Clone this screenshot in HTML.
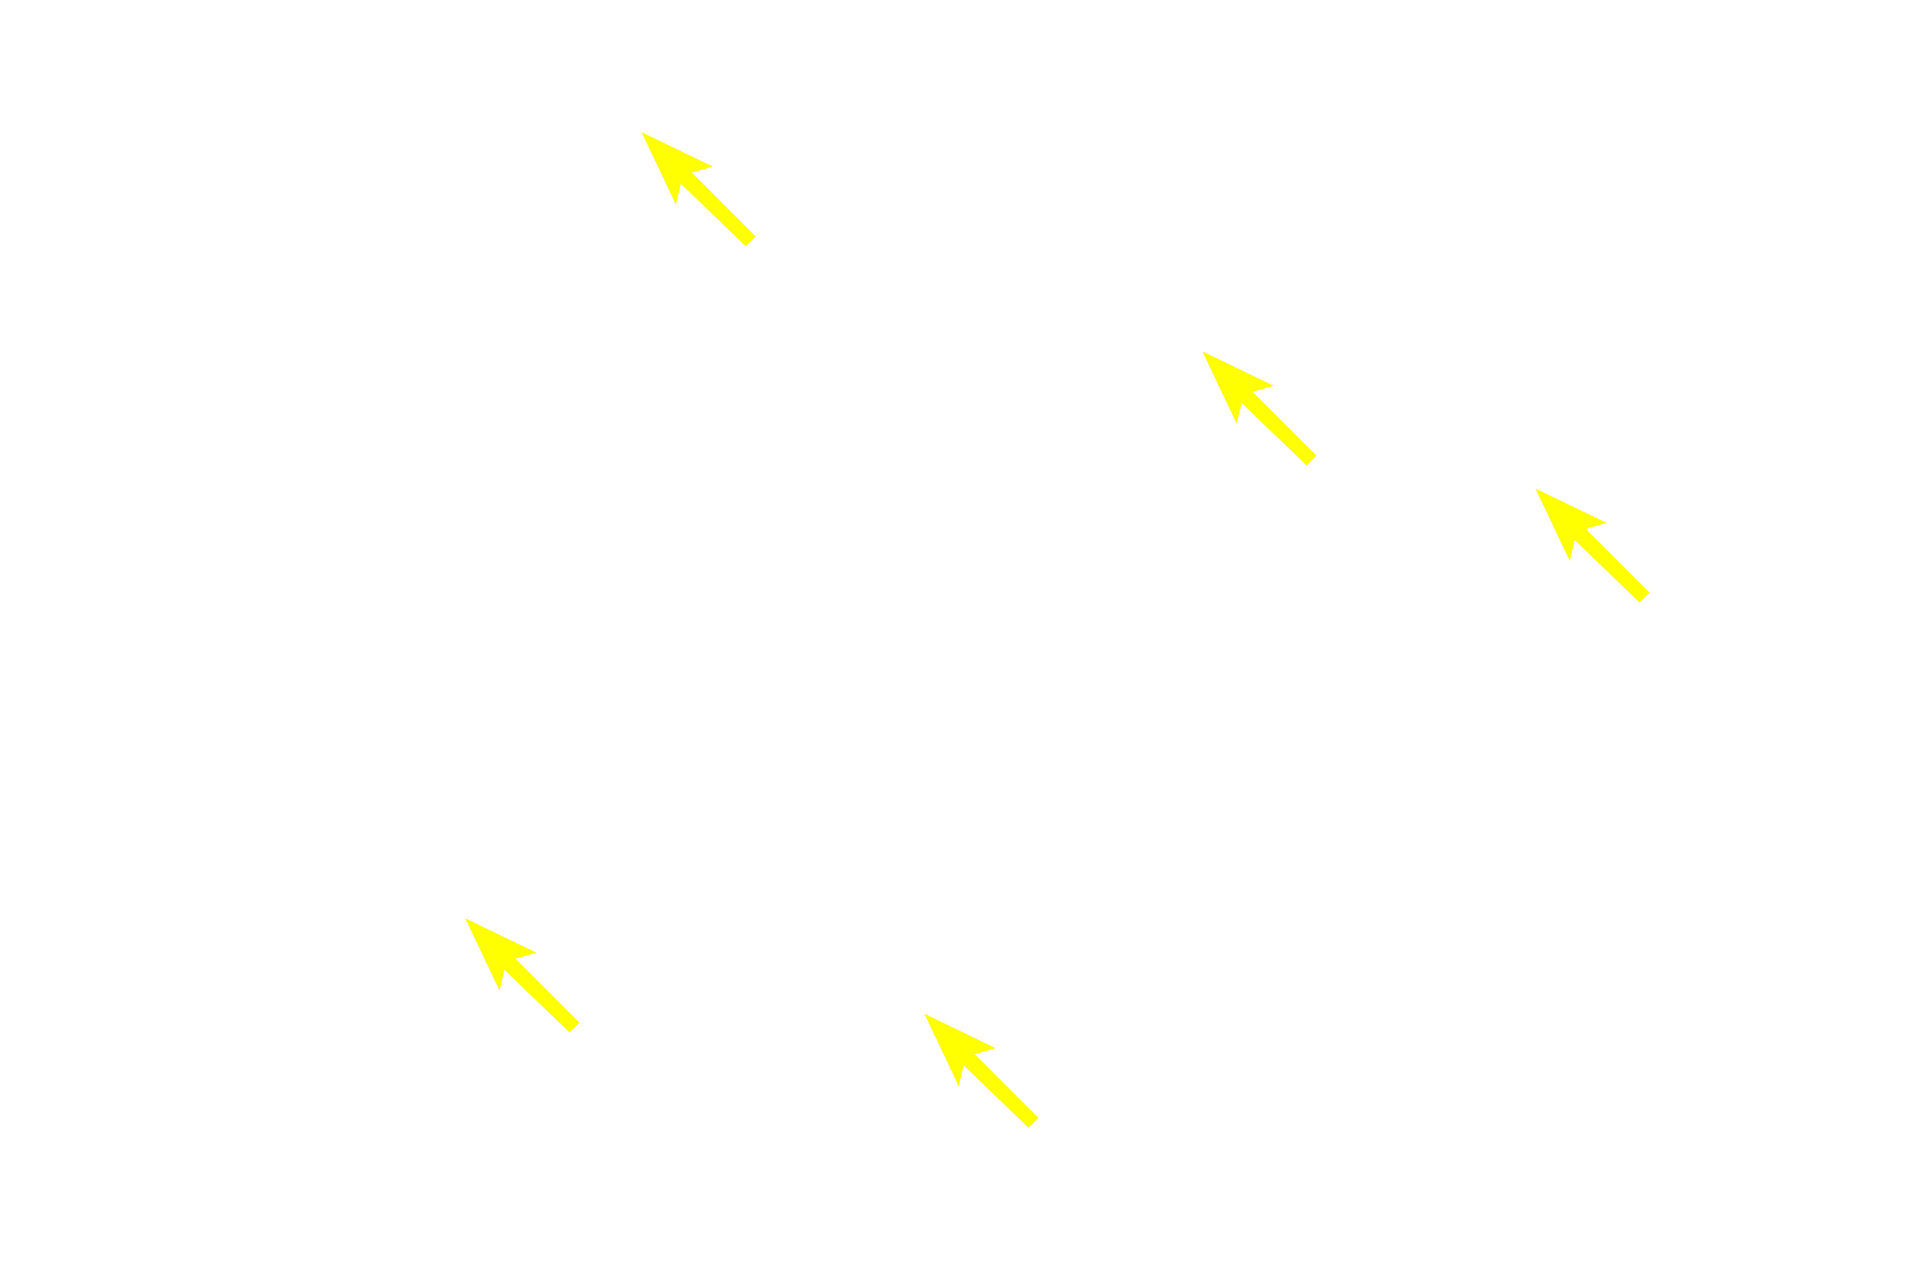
<!DOCTYPE html>
<html><head><meta charset="utf-8"><style>
html,body{margin:0;padding:0;background:#fff;width:1920px;height:1280px;overflow:hidden}
svg{display:block}
</style></head><body>
<svg width="1920" height="1280" viewBox="0 0 1568 1045.33" preserveAspectRatio="none">
<defs><polygon id="a" points="0,0 58,28 41,33 93,85 85,93 32,42 28,59" fill="#ffff00"/></defs>
<use href="#a" x="524" y="108"/>
<use href="#a" x="982" y="287"/>
<use href="#a" x="1254" y="399"/>
<use href="#a" x="380" y="750"/>
<use href="#a" x="755" y="828"/>
</svg>
</body></html>
